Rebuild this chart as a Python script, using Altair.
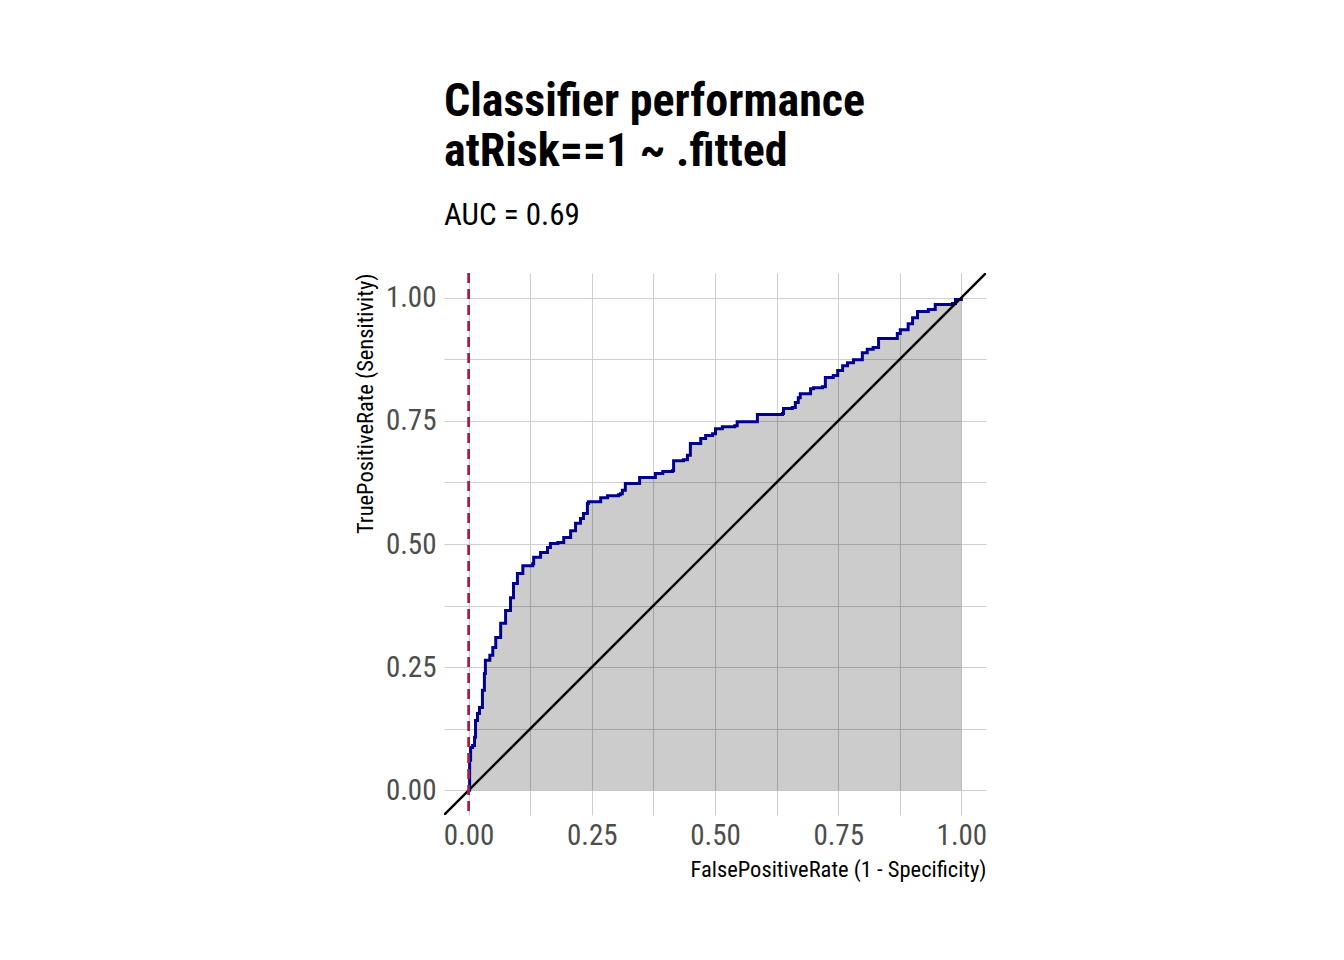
import altair as alt
import pandas as pd

fpr = [0.0, 0.002, 0.004, 0.008, 0.012, 0.014, 0.018, 0.022, 0.028, 0.032, 0.034, 0.043,
       0.049, 0.055, 0.065, 0.075, 0.085, 0.091, 0.099, 0.110, 0.130, 0.132, 0.146, 0.160,
       0.166, 0.181, 0.193, 0.207, 0.217, 0.227, 0.233, 0.241, 0.243, 0.264, 0.268, 0.282,
       0.304, 0.308, 0.312, 0.318, 0.343, 0.347, 0.375, 0.379, 0.394, 0.414, 0.416, 0.436,
       0.444, 0.450, 0.467, 0.471, 0.481, 0.495, 0.501, 0.515, 0.540, 0.545, 0.578, 0.586,
       0.637, 0.639, 0.657, 0.663, 0.669, 0.673, 0.690, 0.694, 0.700, 0.718, 0.724, 0.740,
       0.749, 0.759, 0.769, 0.781, 0.799, 0.809, 0.821, 0.832, 0.862, 0.870, 0.876, 0.892,
       0.901, 0.911, 0.933, 0.947, 0.982, 0.988, 1.0]
tpr = [0.0, 0.061, 0.087, 0.091, 0.108, 0.142, 0.156, 0.168, 0.203, 0.237, 0.264, 0.274,
       0.290, 0.310, 0.339, 0.365, 0.391, 0.420, 0.440, 0.456, 0.460, 0.473, 0.483, 0.493,
       0.501, 0.503, 0.513, 0.527, 0.542, 0.552, 0.562, 0.582, 0.586, 0.586, 0.594, 0.598,
       0.600, 0.602, 0.609, 0.623, 0.623, 0.635, 0.635, 0.643, 0.647, 0.649, 0.669, 0.671,
       0.680, 0.704, 0.704, 0.714, 0.720, 0.724, 0.734, 0.738, 0.740, 0.748, 0.748, 0.763,
       0.765, 0.775, 0.777, 0.787, 0.797, 0.805, 0.805, 0.815, 0.817, 0.819, 0.838, 0.842,
       0.852, 0.862, 0.868, 0.874, 0.888, 0.895, 0.899, 0.917, 0.917, 0.927, 0.935, 0.947,
       0.959, 0.972, 0.976, 0.986, 0.988, 0.996, 1.0]

diag_vals = [-0.05, 1.05]
grid_vals = [0, 0.125, 0.25, 0.375, 0.5, 0.625, 0.75, 0.875, 1.0]
threshold_x = [0.0]

title_lines = ["Classifier performance", "atRisk==1 ~ .fitted"]
subtitle = "AUC = 0.69"
x_title = "FalsePositiveRate (1 - Specificity)"
y_title = "TruePositiveRate (Sensitivity)"

FONT = "Liberation Sans Narrow, Arial Narrow, Roboto Condensed, Liberation Sans, sans-serif"

roc = pd.DataFrame({"fpr": fpr, "tpr": tpr, "base": [0.0] * len(fpr)})
diag = pd.DataFrame({"x": diag_vals, "y": diag_vals})
thr = pd.DataFrame({"x": threshold_x})

label_expr = "(abs(datum.value*4 - round(datum.value*4)) < 1e-6) ? format(datum.value, '.2f') : ''"

xscale = alt.Scale(domain=[-0.05, 1.05], nice=False, zero=False)
yscale = alt.Scale(domain=[-0.05, 1.05], nice=False, zero=False)

xaxis = alt.Axis(title=x_title, values=grid_vals, labelExpr=label_expr, grid=True,
                 ticks=False, domain=False, labelFontSize=29, labelColor="#4D4D4D",
                 labelFont=FONT, titleFont=FONT, titleFontSize=22.5, titleFontWeight="normal",
                 titleColor="#000000", titleAnchor="end", labelPadding=6, titlePadding=8,
                 gridColor="#CFCFCF", gridWidth=1.1, labelFlush=False)
yaxis = alt.Axis(title=y_title, values=grid_vals, labelExpr=label_expr, grid=True,
                 ticks=False, domain=False, labelFontSize=29, labelColor="#4D4D4D",
                 labelFont=FONT, titleFont=FONT, titleFontSize=22.5, titleFontWeight="normal",
                 titleColor="#000000", titleAnchor="end", labelPadding=8, titlePadding=8,
                 gridColor="#CFCFCF", gridWidth=1.1, labelFlush=False)

area = alt.Chart(roc).mark_area(color="#000000", opacity=0.2, interpolate="step-after").encode(
    x=alt.X("fpr:Q", scale=xscale, axis=xaxis),
    y=alt.Y("tpr:Q", scale=yscale, axis=yaxis),
    y2="base:Q",
)

line = alt.Chart(roc).mark_line(color="#00008B", strokeWidth=3, interpolate="step-after").encode(
    x="fpr:Q", y="tpr:Q"
)

diag_line = alt.Chart(diag).mark_line(color="#000000", strokeWidth=2.4, clip=True).encode(
    x="x:Q", y="y:Q"
)

thr_rule = alt.Chart(thr).mark_rule(color="#A51C4E", strokeWidth=2.8, strokeDash=[10, 6]).encode(
    x="x:Q"
)

chart = alt.layer(area, line, diag_line, thr_rule).properties(
    width=542,
    height=542,
    padding={"left": 346, "top": 70, "right": 5, "bottom": 5},
    title=alt.Title(
        text=title_lines,
        subtitle=subtitle,
        anchor="start",
        frame="group",
        font=FONT,
        fontSize=46,
        fontWeight="bold",
        color="#000000",
        lineHeight=50,
        subtitleFont=FONT,
        subtitleFontSize=31,
        subtitleColor="#000000",
        subtitlePadding=25,
        offset=40,
    ),
).configure(background="#FFFFFF", view=alt.ViewConfig(stroke=None))

chart.save("out.html", embed_options={"renderer": "svg", "actions": False})
